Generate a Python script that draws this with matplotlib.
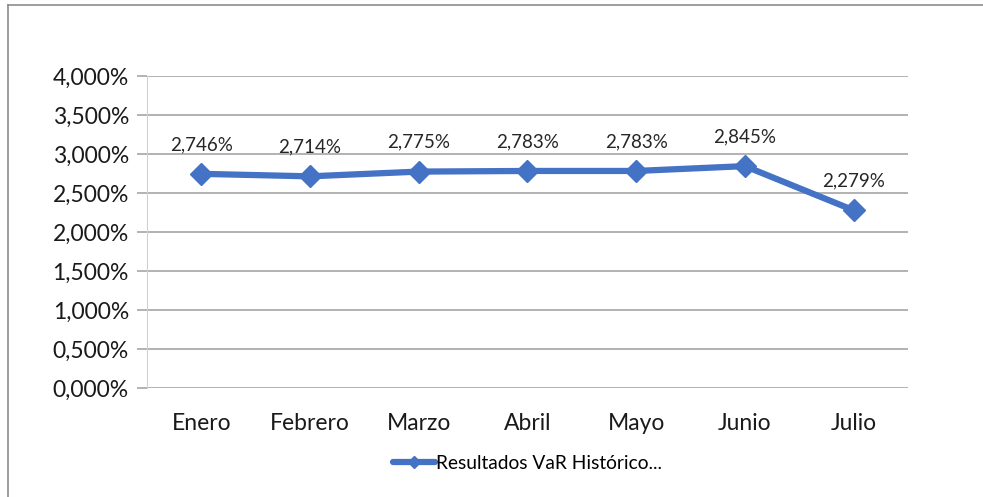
import matplotlib
matplotlib.use('Agg')
import matplotlib.pyplot as plt
from matplotlib.lines import Line2D
from matplotlib.ticker import FuncFormatter

meses = ['Enero', 'Febrero', 'Marzo', 'Abril', 'Mayo', 'Junio', 'Julio']
var_hist = [2.746, 2.714, 2.775, 2.783, 2.783, 2.845, 2.279]
serie = 'Resultados VaR Histórico...'
y_ticks = [0, 0.5, 1.0, 1.5, 2.0, 2.5, 3.0, 3.5, 4.0]

plt.rcParams['font.family'] = ['Lato', 'DejaVu Sans']
azul = '#4472C4'

def pct(v, pos=None):
    return ('%.3f%%' % v).replace('.', ',')

fig = plt.figure(figsize=(9.83, 4.97), dpi=100)
ax = fig.add_axes([0.1495, 0.2193, 0.7742, 0.6277])

x = list(range(len(meses)))
ax.plot(x, var_hist, color=azul, lw=4.5, marker='D', ms=11, mec=azul, mfc=azul,
        solid_joinstyle='round', solid_capstyle='round', zorder=3)
for xi, v in zip(x, var_hist):
    ax.annotate(pct(v), (xi, v), xytext=(0, 15), textcoords='offset points',
                ha='center', va='bottom', fontsize=13.5, color='#262626')

ax.set_xlim(-0.5, len(meses) - 0.5)
ax.set_ylim(0, 4.0)
ax.set_yticks(y_ticks)
ax.yaxis.set_major_formatter(FuncFormatter(pct))
ax.set_xticks(x)
ax.set_xticklabels(meses)
ax.grid(axis='y', color='#a6a6a6', lw=1.2)
ax.set_axisbelow(True)
for s in ['top', 'right', 'bottom']:
    ax.spines[s].set_visible(False)
ax.spines['left'].set_color('#d0d0d0')
ax.tick_params(axis='y', length=7, color='#a6a6a6', width=1.2, pad=6,
               labelsize=16.5, labelcolor='#1a1a1a')
ax.tick_params(axis='x', length=0, pad=18, labelsize=16.5, labelcolor='#1a1a1a')

h = Line2D([], [], color=azul, lw=4.5, marker='D', ms=6, solid_capstyle='round')
fig.legend([h], [serie], loc='center', bbox_to_anchor=(0.537, 0.068), frameon=False,
           fontsize=13.8, handlelength=2.2, handletextpad=0.05)

# chart border (top and left)
fig.add_artist(Line2D([0.008, 1.0], [0.99, 0.99], color='#8c8c8c', lw=1.2))
fig.add_artist(Line2D([0.008, 0.008], [0.0, 0.99], color='#8c8c8c', lw=1.2))

fig.savefig('out.png', dpi=100)
